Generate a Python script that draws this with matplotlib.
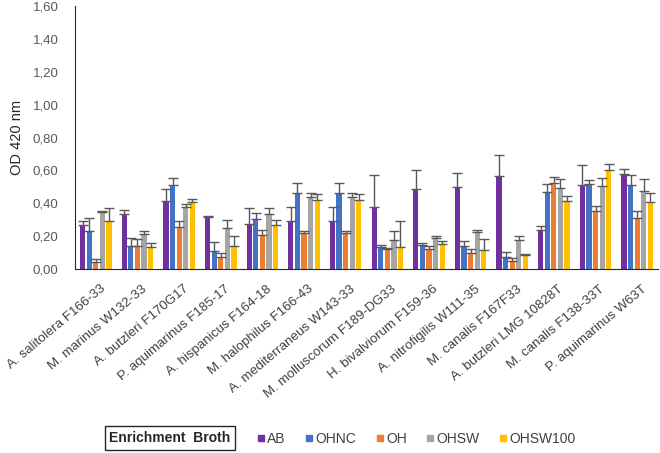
import matplotlib
matplotlib.use("Agg")
import matplotlib.pyplot as plt
from matplotlib.ticker import FuncFormatter, MultipleLocator
from matplotlib.transforms import ScaledTranslation
from matplotlib.lines import Line2D
import numpy as np

plt.rcParams["font.family"] = ["Liberation Sans", "DejaVu Sans"]

strains = [
    "A. salitolera F166-33", "M. marinus W132-33", "A. butzleri F170G17",
    "P. aquimarinus F185-17", "A. hispanicus F164-18", "M. halophilus F166-43",
    "A. mediterraneus W143-33", "M. molluscorum F189-DG33", "H. bivalviorum F159-36",
    "A. nitrofigilis W111-35", "M. canalis F167F33", "A. butzleri LMG 10828T",
    "M. canalis F138-33T", "P. aquimarinus W63T",
]
broths = ["AB", "OHNC", "OH", "OHSW", "OHSW100"]

ab      = [0.265, 0.332, 0.412, 0.314, 0.273, 0.290, 0.290, 0.377, 0.489, 0.497, 0.565, 0.239, 0.510, 0.577]
ohnc    = [0.232, 0.139, 0.512, 0.112, 0.304, 0.465, 0.465, 0.133, 0.145, 0.139, 0.071, 0.471, 0.516, 0.510]
oh      = [0.041, 0.139, 0.257, 0.071, 0.206, 0.220, 0.220, 0.122, 0.120, 0.100, 0.051, 0.524, 0.351, 0.312]
ohsw    = [0.349, 0.214, 0.377, 0.251, 0.332, 0.436, 0.436, 0.179, 0.188, 0.224, 0.177, 0.495, 0.504, 0.477]
ohsw100 = [0.290, 0.133, 0.410, 0.139, 0.267, 0.418, 0.418, 0.133, 0.153, 0.114, 0.086, 0.412, 0.603, 0.406]

ab_err      = [0.025, 0.029, 0.077, 0.006, 0.096, 0.087, 0.087, 0.192, 0.112, 0.090, 0.130, 0.024, 0.124, 0.029]
ohnc_err    = [0.076, 0.051, 0.043, 0.053, 0.034, 0.057, 0.057, 0.016, 0.012, 0.032, 0.033, 0.045, 0.024, 0.059]
oh_err      = [0.018, 0.042, 0.033, 0.025, 0.030, 0.014, 0.014, 0.004, 0.021, 0.024, 0.014, 0.035, 0.030, 0.039]
ohsw_err    = [0.004, 0.016, 0.019, 0.045, 0.037, 0.027, 0.027, 0.053, 0.014, 0.012, 0.025, 0.051, 0.051, 0.071]
ohsw100_err = [0.079, 0.024, 0.018, 0.063, 0.033, 0.039, 0.039, 0.157, 0.018, 0.069, 0.003, 0.034, 0.037, 0.057]

colors = ["#7030A0", "#4472C4", "#ED7D31", "#A5A5A5", "#FFC000"]

series = [ab, ohnc, oh, ohsw, ohsw100]
errors = [ab_err, ohnc_err, oh_err, ohsw_err, ohsw100_err]

fig = plt.figure(figsize=(6.6, 4.53), dpi=100)
ax = fig.add_axes([75 / 660, 1 - 269 / 453, 583 / 660, 263 / 453])

x = np.arange(len(strains))
pitch = 0.158
width = 0.125
for k, (vals, errs, col) in enumerate(zip(series, errors, colors)):
    pos = x + (k - 2) * pitch
    ax.bar(pos, vals, width=width, color=col, zorder=2)
    ax.errorbar(pos, vals, yerr=[np.zeros(len(errs)), errs], fmt="none",
                ecolor="#595959", elinewidth=1.0, capsize=3.5, capthick=1.0, zorder=3)

ax.set_xlim(-0.5, len(strains) - 0.5)
ax.set_ylim(0, 1.6)
ax.yaxis.set_major_locator(MultipleLocator(0.2))
ax.yaxis.set_major_formatter(FuncFormatter(lambda v, p: f"{v:.2f}".replace(".", ",")))
ax.tick_params(axis="y", length=0, pad=12, labelsize=9.5, labelcolor="#595959")
ax.tick_params(axis="x", length=0, pad=10)
ax.set_xticks(x)
ax.set_xticklabels(strains, rotation=40, ha="right", va="top", rotation_mode="anchor",
                   fontsize=9.6, color="#404040")
# nudge labels a little right so the first one stays inside the figure
shift = ScaledTranslation(4 / 100, 0, fig.dpi_scale_trans)
for lbl in ax.get_xticklabels():
    lbl.set_transform(lbl.get_transform() + shift)

ax.spines["top"].set_visible(False)
ax.spines["right"].set_visible(False)
ax.spines["left"].set_color("#262626")
ax.spines["bottom"].set_color("#262626")
ax.set_ylabel("OD 420 nm", fontsize=10.5, color="#262626", labelpad=6)

fig.text(170 / 660, 1 - 438 / 453, "Enrichment  Broth", fontsize=10, fontweight="bold",
         ha="center", va="center", color="#262626",
         bbox=dict(boxstyle="square,pad=0.35", fc="white", ec="#262626", lw=1))

handles = [Line2D([], [], marker="s", linestyle="none", markersize=4.5,
                  markerfacecolor=c, markeredgecolor=c) for c in colors]
fig.legend(handles, broths, loc="center left", bbox_to_anchor=(244 / 660, 1 - 439 / 453),
           ncol=5, frameon=False, fontsize=10, handletextpad=0.15, columnspacing=1.4,
           handlelength=0.6, labelcolor="#404040")

fig.savefig("out.png", dpi=100)
